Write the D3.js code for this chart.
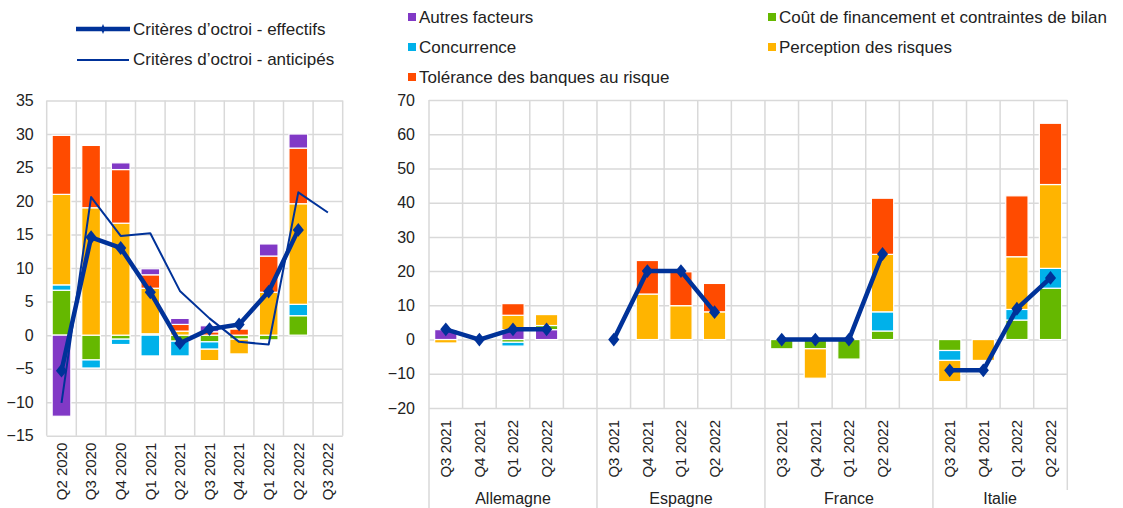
<!DOCTYPE html>
<html>
<head>
<meta charset="utf-8">
<script src="https://cdn.jsdelivr.net/npm/d3@7"></script>
<style>
  body { margin: 0; background: #fff; }
  svg { font-family: 'Liberation Sans', Arial, sans-serif; }
  .grid line { stroke: #d9d9d9; stroke-width: 1.5; }
  .tick text { fill: #222; }
</style>
</head>
<body>
<div id="chart"></div>
<script>
// left panel: euro area
const leftQuarters = ['Q2 2020', 'Q3 2020', 'Q4 2020', 'Q1 2021', 'Q2 2021', 'Q3 2021', 'Q4 2021', 'Q1 2022', 'Q2 2022', 'Q3 2022']
const leftAutres = [-12.1, 0, 1.0, 0.9, 0.9, 0.9, 0, 1.8, 2.1, 0]
const leftCout = [6.7, -3.7, -0.6, 0.2, -0.9, -1.0, -0.6, -0.7, 2.9, 0]
const leftConcurrence = [0.8, -1.2, -0.8, -3.1, -2.2, -1.1, 0, 0, 1.7, 0]
const leftPerception = [13.5, 19.0, 16.7, 6.8, 0.6, -1.7, -2.2, 6.4, 15.0, 0]
const leftTolerance = [8.8, 9.3, 8.0, 2.0, 1.0, 0.5, 0.9, 5.4, 8.3, 0]
const leftEffectifs = [-5.3, 14.6, 13.0, 6.4, -1.2, 0.9, 1.6, 6.5, 15.7, null]
const leftAnticipes = [-10.1, 20.6, 14.8, 15.2, 6.6, 2.5, -1.0, -1.4, 21.3, 18.3]

// right panel: by country
const countries = ['Allemagne', 'Espagne', 'France', 'Italie']
const rightQuarters = ['Q3 2021', 'Q4 2021', 'Q1 2022', 'Q2 2022']
const rightAutres = [2.9, 0, 2.9, 2.9, 0, 0, 0, 0, 0, 0, 0, 0, 0, 0, 0, 0]
const rightCout = [0, 0, -0.8, 1.2, 0, 0, 0, 0, -2.7, -2.7, -5.7, 2.5, -3.2, 0, 5.7, 15.0]
const rightConcurrence = [0, 0, -1.1, 0, 0, 0, 0, 0, 0, 0, 0, 5.6, -2.9, 0, 3.1, 5.8]
const rightPerception = [-1.0, 0, 4.2, 3.2, 0, 13.3, 9.9, 8.1, 0, -8.6, 0, 16.8, -6.2, -6.1, 15.4, 24.5]
const rightTolerance = [0, 0, 3.4, 0, 0, 9.8, 9.9, 8.3, 0, 0, 0, 16.4, 0, 0, 17.8, 17.9]
const rightEffectifs = [3.0, 0, 3.0, 3.0, 0, 20.0, 20.0, 8.0, 0, 0, 0, 25.0, -9.0, -9.0, 9.0, 18.0]

const colors = {
  autres: '#8139c6',
  cout: '#65b800',
  concurrence: '#00b1ea',
  perception: '#ffb400',
  tolerance: '#ff4b00'
}
const navy = '#003299'

const svg = d3.select('#chart')
  .append('svg')
  .attr('width', 1123)
  .attr('height', 508)

// ---------- legend ----------
const legend = svg.append('g').style('font-size', '17px').attr('fill', '#222')

legend.append('line')
  .attr('x1', 76).attr('x2', 130).attr('y1', 29).attr('y2', 29)
  .attr('stroke', navy).attr('stroke-width', 4.5)
legend.append('path')
  .attr('d', d3.symbol(d3.symbolDiamond, 30)())
  .attr('transform', 'translate(103,29) scale(0.7,1)')
  .attr('fill', navy)
legend.append('text').attr('x', 133).attr('y', 29).attr('dy', '0.35em')
  .text('Critères d’octroi - effectifs')

legend.append('line')
  .attr('x1', 77).attr('x2', 129).attr('y1', 60).attr('y2', 60)
  .attr('stroke', navy).attr('stroke-width', 2)
legend.append('text').attr('x', 133).attr('y', 59).attr('dy', '0.35em')
  .text('Critères d’octroi - anticipés')

const boxItems = [
  { label: 'Autres facteurs', color: colors.autres, x: 408, y: 17 },
  { label: 'Concurrence', color: colors.concurrence, x: 408, y: 47 },
  { label: 'Tolérance des banques au risque', color: colors.tolerance, x: 408, y: 77 },
  { label: 'Coût de financement et contraintes de bilan', color: colors.cout, x: 768, y: 17 },
  { label: 'Perception des risques', color: colors.perception, x: 768, y: 47 }
]
boxItems.forEach(d => {
  legend.append('rect').attr('x', d.x).attr('y', d.y - 4).attr('width', 8).attr('height', 8)
    .attr('fill', d.color)
  legend.append('text').attr('x', d.x + 11).attr('y', d.y).attr('dy', '0.35em')
    .text(d.label)
})

// ---------- helper to draw a stacked panel ----------
function drawStacks (g, rows, keys, x, y, barW) {
  const stacked = d3.stack()
    .keys(keys)
    .offset(d3.stackOffsetDiverging)(rows)

  g.append('g')
    .selectAll('g')
    .data(stacked)
    .join('g')
    .attr('fill', d => colors[d.key])
    .selectAll('rect')
    .data(d => d.filter(p => p[1] - p[0] !== 0))
    .join('rect')
    .attr('x', p => x(p.data.cat) + (x.bandwidth() - barW) / 2)
    .attr('width', barW)
    .attr('y', p => y(Math.max(p[0], p[1])))
    .attr('height', p => Math.abs(y(p[0]) - y(p[1])))
    .attr('stroke', '#fff')
    .attr('stroke-width', 1.2)
}

function drawLines (g, pts, x, y, thick) {
  const line = d3.line()
    .defined(d => d.v !== null)
    .x(d => x(d.cat) + x.bandwidth() / 2)
    .y(d => y(d.v))
  g.append('path')
    .datum(pts)
    .attr('fill', 'none')
    .attr('stroke', navy)
    .attr('stroke-width', thick ? 4.5 : 2)
    .attr('stroke-linejoin', 'round')
    .attr('d', line)
  if (thick) {
    g.selectAll(null)
      .data(pts.filter(d => d.v !== null))
      .join('path')
      .attr('d', d3.symbol(d3.symbolDiamond, 55)())
      .attr('transform', d => 'translate(' + (x(d.cat) + x.bandwidth() / 2) + ',' + y(d.v) + ') scale(1.4,1)')
      .attr('fill', navy)
  }
}

// ---------- left panel ----------
const L = { left: 46.7, right: 342.7, top: 100.5, bottom: 435.7 }
const xL = d3.scaleBand().domain(leftQuarters).range([L.left, L.right]).padding(0)
const yL = d3.scaleLinear().domain([-15, 35]).range([L.bottom, L.top])

const gL = svg.append('g')

gL.append('g')
  .attr('class', 'grid')
  .attr('transform', 'translate(' + L.left + ',0)')
  .call(d3.axisLeft(yL).tickValues(d3.range(-15, 36, 5)).tickSize(-(L.right - L.left)).tickPadding(13))
  .call(g => g.select('.domain').remove())
  .call(g => g.selectAll('text').style('font-size', '16px'))

gL.append('g')
  .attr('class', 'grid')
  .selectAll('line')
  .data(d3.range(leftQuarters.length + 1))
  .join('line')
  .attr('x1', i => L.left + i * xL.step())
  .attr('x2', i => L.left + i * xL.step())
  .attr('y1', L.top)
  .attr('y2', L.bottom)

gL.append('g')
  .attr('transform', 'translate(0,' + L.bottom + ')')
  .call(d3.axisBottom(xL).tickSize(0))
  .call(g => g.select('.domain').remove())
  .call(g => g.selectAll('text')
    .attr('transform', 'rotate(-90)')
    .attr('x', -7).attr('y', 0).attr('dy', '0.35em')
    .style('text-anchor', 'end')
    .style('font-size', '15px'))

const leftRows = leftQuarters.map((q, i) => ({
  cat: q,
  cout: leftCout[i],
  concurrence: leftConcurrence[i],
  perception: leftPerception[i],
  tolerance: leftTolerance[i],
  autres: leftAutres[i]
}))
drawStacks(gL, leftRows, ['cout', 'concurrence', 'perception', 'tolerance', 'autres'], xL, yL, 18.7)
drawLines(gL, leftQuarters.map((q, i) => ({ cat: q, v: leftAnticipes[i] })), xL, yL, false)
drawLines(gL, leftQuarters.map((q, i) => ({ cat: q, v: leftEffectifs[i] })), xL, yL, true)

// ---------- right panel ----------
const R = { left: 429, right: 1067.3, top: 100, bottom: 408 }
const rightCats = []
countries.forEach((c, ci) => {
  rightQuarters.forEach(q => rightCats.push(c + '|' + q))
  if (ci < countries.length - 1) rightCats.push(c + '|blank')
})
const xR = d3.scaleBand().domain(rightCats).range([R.left, R.right]).padding(0)
const yR = d3.scaleLinear().domain([-20, 70]).range([R.bottom, R.top])

const gR = svg.append('g')

gR.append('g')
  .attr('class', 'grid')
  .attr('transform', 'translate(' + R.left + ',0)')
  .call(d3.axisLeft(yR).tickValues(d3.range(-20, 71, 10)).tickSize(-(R.right - R.left)).tickPadding(14))
  .call(g => g.select('.domain').remove())
  .call(g => g.selectAll('text').style('font-size', '16px'))

gR.append('g')
  .attr('class', 'grid')
  .selectAll('line')
  .data(d3.range(rightCats.length + 1))
  .join('line')
  .attr('x1', i => R.left + i * xR.step())
  .attr('x2', i => R.left + i * xR.step())
  .attr('y1', R.top)
  .attr('y2', R.bottom)

gR.append('g')
  .attr('transform', 'translate(0,' + R.bottom + ')')
  .call(d3.axisBottom(xR).tickSize(0).tickFormat(d => d.endsWith('blank') ? '' : d.split('|')[1]))
  .call(g => g.select('.domain').remove())
  .call(g => g.selectAll('text')
    .attr('transform', 'rotate(-90)')
    .attr('x', -12).attr('y', 0).attr('dy', '0.35em')
    .style('text-anchor', 'end')
    .style('font-size', '15px'))

// group separators and country labels
const groupStarts = countries.map(c => xR(c + '|' + rightQuarters[0]))
const groupEnds = groupStarts.map((s, i) => i < countries.length - 1 ? groupStarts[i + 1] : R.right)
gR.append('g')
  .attr('class', 'grid')
  .selectAll('line')
  .data(groupStarts.concat([R.right]))
  .join('line')
  .attr('x1', d => d).attr('x2', d => d)
  .attr('y1', R.bottom)
  .attr('y2', (d, i) => i === countries.length ? 490 : 508)

gR.append('g')
  .selectAll('text')
  .data(countries)
  .join('text')
  .attr('x', (d, i) => (groupStarts[i] + groupEnds[i]) / 2)
  .attr('y', 498)
  .attr('dy', '0.35em')
  .attr('text-anchor', 'middle')
  .attr('fill', '#222')
  .style('font-size', '16px')
  .text(d => d)

const rightRows = []
countries.forEach((c, ci) => {
  rightQuarters.forEach((q, qi) => {
    const i = ci * rightQuarters.length + qi
    rightRows.push({
      cat: c + '|' + q,
      autres: rightAutres[i],
      cout: rightCout[i],
      concurrence: rightConcurrence[i],
      perception: rightPerception[i],
      tolerance: rightTolerance[i]
    })
  })
})
drawStacks(gR, rightRows, ['autres', 'cout', 'concurrence', 'perception', 'tolerance'], xR, yR, 22.3)

countries.forEach((c, ci) => {
  const pts = rightQuarters.map((q, qi) => ({ cat: c + '|' + q, v: rightEffectifs[ci * rightQuarters.length + qi] }))
  drawLines(gR, pts, xR, yR, true)
})
</script>
</body>
</html>
